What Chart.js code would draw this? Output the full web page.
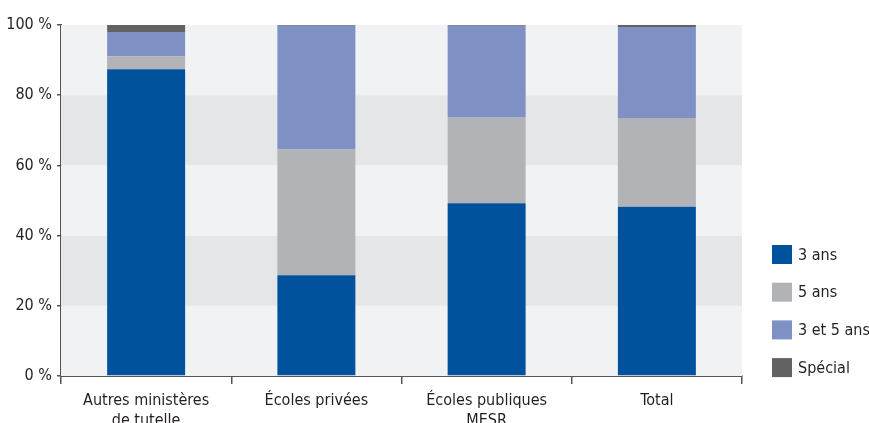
<!DOCTYPE html>
<html lang="fr">
<head>
<meta charset="utf-8">
<script src="https://cdn.jsdelivr.net/npm/chart.js@4"></script>
<style>
  html, body { margin: 0; padding: 0; background: #ffffff; }
  #wrap { width: 869px; height: 423px; position: relative; }
</style>
</head>
<body>
<div id="wrap"><canvas id="chart"></canvas></div>
<script>
// Catégories (établissements) et répartition des durées d'habilitation, en %
const categories = [["Autres ministères", "de tutelle"], "Écoles privées", ["Écoles publiques", "MESR"], "Total"];
const seriesLabels = ["3 ans", "5 ans", "3 et 5 ans", "Spécial"];
const troisAns = [87.4, 28.7, 49.2, 48.2];
const cinqAns = [3.7, 35.9, 24.6, 25.3];
const troisEtCinqAns = [6.9, 35.2, 26.0, 25.9];
const special = [2.0, 0.2, 0.2, 0.6];
const yTickValues = [0, 20, 40, 60, 80, 100];

const colors = ["#00529c", "#b2b3b6", "#7f91c4", "#616264"];
const FONT = '"Liberation Sans Narrow", "DejaVu Sans Condensed", "Roboto Condensed", sans-serif';
const textColor = "#231f20";
const axisColor = "#555555";

// Bandes horizontales alternées dans la zone de tracé
const bandsPlugin = {
  id: "bands",
  beforeDatasetsDraw(chart) {
    const { ctx, chartArea, scales } = chart;
    const y = scales.y;
    ctx.save();
    for (let i = 0; i < yTickValues.length - 1; i++) {
      const top = y.getPixelForValue(yTickValues[i + 1]);
      const bottom = y.getPixelForValue(yTickValues[i]);
      ctx.fillStyle = i % 2 === 0 ? "#f1f2f4" : "#e5e6e8";
      ctx.fillRect(chartArea.left, top, chartArea.right - chartArea.left, bottom - top);
    }
    ctx.restore();
  }
};

// Légende verticale à droite, alignée vers le bas
const sideLegend = {
  id: "sideLegend",
  afterDraw(chart) {
    const { ctx } = chart;
    const x0 = 772, boxW = 20, boxH = 19, gap = 37.7, yFirst = 254.5;
    ctx.save();
    ctx.font = "16px " + FONT;
    ctx.textBaseline = "middle";
    ctx.textAlign = "left";
    chart.data.datasets.forEach((ds, i) => {
      const cy = yFirst + i * gap;
      ctx.fillStyle = ds.backgroundColor;
      ctx.fillRect(x0, cy - boxH / 2, boxW, boxH);
      ctx.fillStyle = textColor;
      ctx.fillText(ds.label, x0 + boxW + 6, cy + 1);
    });
    ctx.restore();
  }
};

const seriesData = [troisAns, cinqAns, troisEtCinqAns, special];

new Chart(document.getElementById("chart"), {
  type: "bar",
  data: {
    labels: categories,
    datasets: seriesLabels.map((label, i) => ({
      label,
      data: seriesData[i],
      backgroundColor: colors[i],
      borderWidth: 0,
      barPercentage: 0.458,
      categoryPercentage: 1
    }))
  },
  options: {
    responsive: true,
    maintainAspectRatio: false,
    devicePixelRatio: 1,
    animation: false,
    layout: { padding: { top: 25, right: 127, left: 0, bottom: 0 } },
    plugins: {
      legend: { display: false },
      tooltip: { enabled: false }
    },
    scales: {
      x: {
        stacked: true,
        afterFit(scale) { scale.height = 47; },
        grid: {
          offset: true,
          drawOnChartArea: false,
          drawTicks: true,
          tickLength: 8,
          color: axisColor,
          lineWidth: 1.5
        },
        border: { display: true, color: axisColor, width: 2 },
        ticks: {
          autoSkip: false,
          maxRotation: 0,
          minRotation: 0,
          padding: 7,
          color: textColor,
          font: { family: FONT, size: 16, lineHeight: 1.25 }
        }
      },
      y: {
        stacked: true,
        min: 0,
        max: 100,
        afterFit(scale) { scale.width = 61; },
        afterBuildTicks(scale) { scale.ticks = yTickValues.map(v => ({ value: v })); },
        grid: {
          drawOnChartArea: false,
          drawTicks: true,
          tickLength: 4,
          color: axisColor,
          lineWidth: 1.5
        },
        border: { display: true, color: axisColor, width: 2 },
        ticks: {
          padding: 5,
          color: textColor,
          font: { family: FONT, size: 16 },
          callback: v => v + " %"
        }
      }
    }
  },
  plugins: [bandsPlugin, sideLegend]
});
</script>
</body>
</html>
